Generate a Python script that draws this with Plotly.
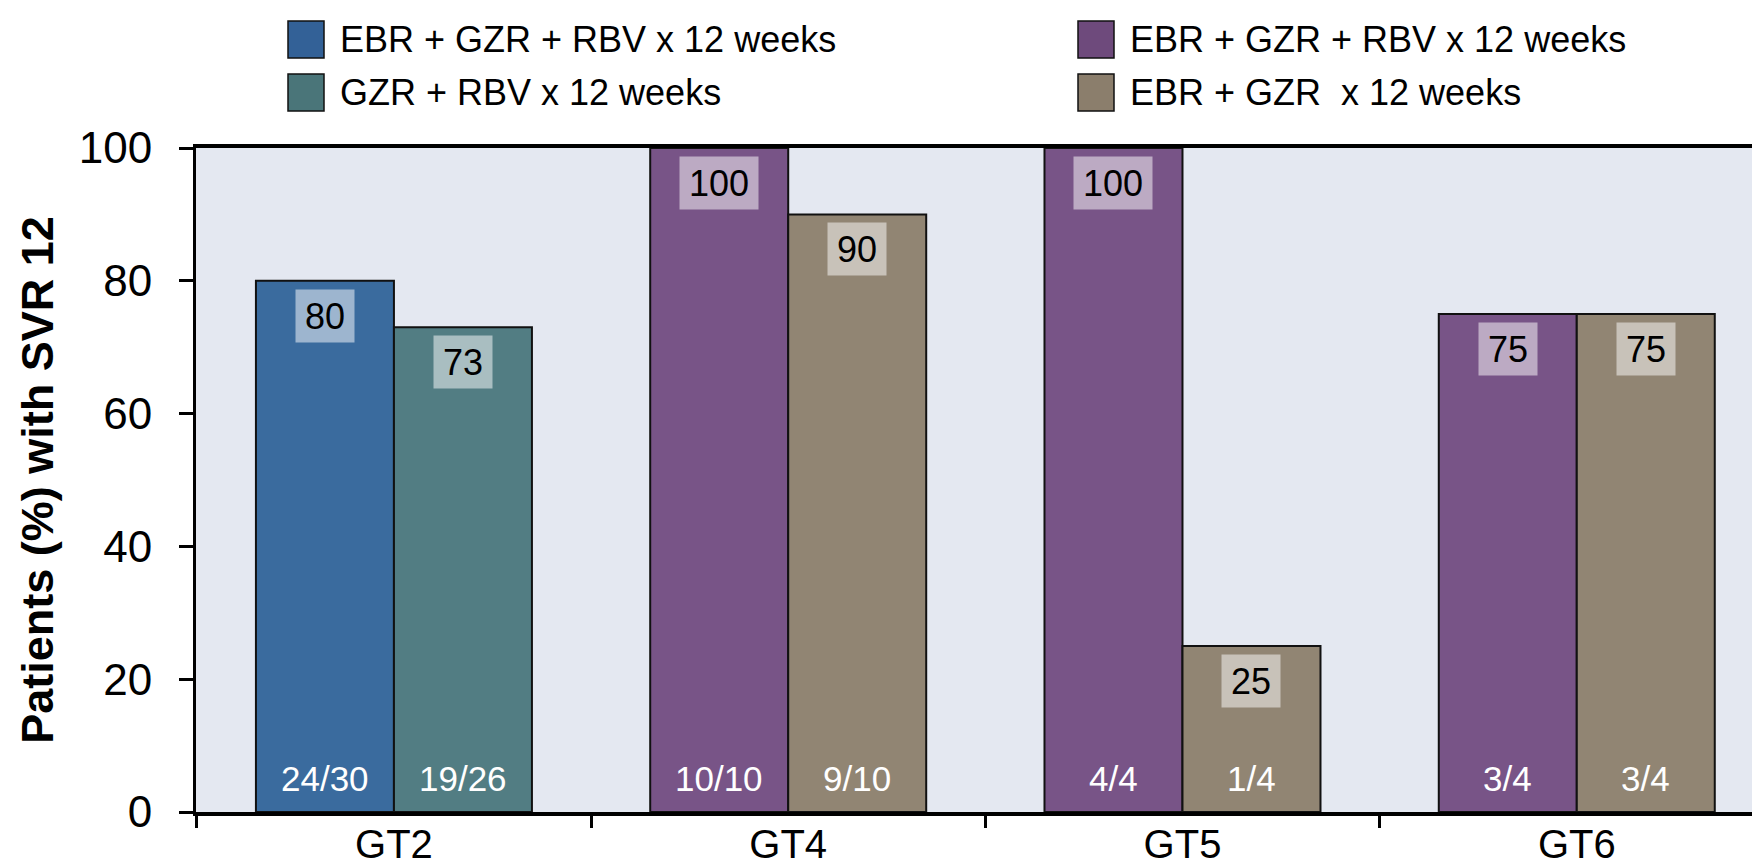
import plotly.graph_objects as go

categories = ["GT2", "GT4", "GT5", "GT6"]
series_names = ["EBR + GZR + RBV x 12 weeks", "GZR + RBV x 12 weeks",
                "EBR + GZR + RBV x 12 weeks", "EBR + GZR  x 12 weeks"]
blue_vals = [80, None, None, None]
blue_counts = ["24/30", "", "", ""]
teal_vals = [73, None, None, None]
teal_counts = ["19/26", "", "", ""]
purple_vals = [None, 100, 100, 75]
purple_counts = ["", "10/10", "4/4", "3/4"]
tan_vals = [None, 90, 25, 75]
tan_counts = ["", "9/10", "1/4", "3/4"]
y_ticks = [0, 20, 40, 60, 80, 100]

colors = ["#3A6B9E", "#527D83", "#785487", "#918573"]
legend_colors = ["#336197", "#4A7579", "#6E4A7C", "#8B7E6C"]

W, H = 1760, 864
L, R, T, B = 188, 0, 140, 60
PW = W - L - R
PH = H - T - B
FONT = "Liberation Sans, Arial"
BW = 0.35
VAL_FS = 36
CNT_FS = 35

fig = go.Figure()
series = [(blue_vals, blue_counts, -BW), (teal_vals, teal_counts, 0.0),
          (purple_vals, purple_counts, -BW), (tan_vals, tan_counts, 0.0)]
for k, (vals, counts, off) in enumerate(series):
    fig.add_trace(go.Bar(
        x=categories, y=vals, name=series_names[k], width=BW, offset=off,
        marker=dict(color=colors[k], line=dict(color="#111111", width=2)),
        showlegend=False, hoverinfo="skip"))
    for i, v in enumerate(vals):
        if v is None:
            continue
        xc = i + off + BW / 2
        label = str(v)
        fig.add_annotation(x=xc, y=v, xref="x", yref="y", text=label,
                           showarrow=False, yanchor="top", yshift=-8,
                           width=len(label) * 0.556 * VAL_FS + 14, height=48,
                           font=dict(family=FONT, size=VAL_FS, color="black"),
                           bgcolor="rgba(255,255,255,0.5)", borderpad=2)
        fig.add_annotation(x=xc, y=0, xref="x", yref="y", text=counts[i],
                           showarrow=False, yanchor="bottom", yshift=12,
                           font=dict(family=FONT, size=CNT_FS, color="white"))

# manual legend (large swatches like the reference)
def px_x(px):
    return (px - L) / PW

def px_y(py):
    return 1 - (py - T) / PH

legend_pos = [(280, 13), (280, 66), (1070, 13), (1070, 66)]
for k, (lx, ly) in enumerate(legend_pos):
    fig.add_shape(type="rect", xref="paper", yref="paper",
                  x0=px_x(lx), x1=px_x(lx + 36), y0=px_y(ly), y1=px_y(ly + 37),
                  fillcolor=legend_colors[k], line=dict(color="#111111", width=1.5))
    fig.add_annotation(xref="paper", yref="paper", x=px_x(lx + 50), y=px_y(ly + 18.5),
                       text=series_names[k], showarrow=False, xanchor="left", yanchor="middle",
                       font=dict(family=FONT, size=36, color="black"))

fig.update_layout(
    width=W, height=H, barmode="overlay",
    margin=dict(l=L, r=R, t=T, b=B),
    paper_bgcolor="white", plot_bgcolor="#E4E8F1",
    font=dict(family=FONT, size=40, color="black"),
)
fig.update_xaxes(type="category", range=[-0.502, 3.485], showgrid=False,
                 showline=True, linecolor="black", linewidth=4, mirror=True,
                 ticks="outside", tickson="boundaries", ticklen=12, tickwidth=3,
                 tickcolor="black", tickfont=dict(family=FONT, size=40),
                 ticklabelstandoff=-6)
fig.update_yaxes(range=[0, 100], tickvals=y_ticks, showgrid=False, zeroline=False,
                 showline=True, linecolor="black", linewidth=3,
                 ticks="outside", ticklen=14, tickwidth=3, tickcolor="black",
                 tickfont=dict(family=FONT, size=44), ticklabelstandoff=18,
                 title=dict(text="<b>Patients (%) with SVR 12</b>",
                            font=dict(family=FONT, size=45), standoff=12))

fig.write_html("out.html")
